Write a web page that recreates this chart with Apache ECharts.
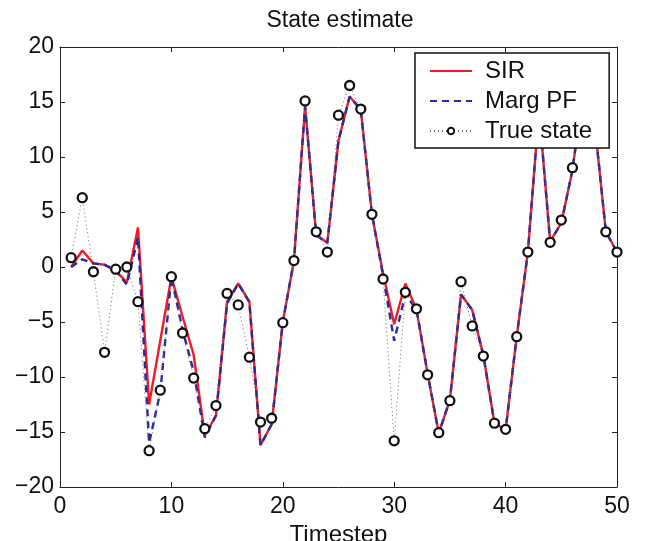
<!DOCTYPE html>
<html>
<head>
<meta charset="utf-8">
<script src="https://cdn.jsdelivr.net/npm/echarts@6/dist/echarts.min.js"></script>
<style>html,body{margin:0;padding:0;background:#fff}#c{width:652px;height:541px}</style>
</head>
<body>
<div id="c"></div>
<script>
// Timesteps 1..50
const timesteps = [1,2,3,4,5,6,7,8,9,10,11,12,13,14,15,16,17,18,19,20,21,22,23,24,25,26,27,28,29,30,31,32,33,34,35,36,37,38,39,40,41,42,43,44,45,46,47,48,49,50];
const sirValues = [0.0,1.5,0.33,0.2,-0.35,-1.4,3.6,-12.5,-6.7,-0.9,-4.5,-8.0,-15.3,-13.5,-3.15,-1.5,-3.15,-16.2,-14.3,-5.0,0.55,14.6,2.9,2.2,11.5,15.5,14.3,4.8,-0.6,-5.2,-1.5,-3.85,-9.7,-15.1,-12.1,-2.5,-3.9,-8.0,-14.2,-14.8,-6.3,1.36,14.3,2.3,4.0,8.8,16.3,13.0,3.2,1.36];
const margPfValues = [0.0,0.7,0.33,0.2,-0.3,-1.6,2.7,-16.0,-11.4,-0.9,-5.7,-9.5,-15.5,-13.5,-3.3,-1.5,-3.2,-16.2,-14.3,-5.0,0.55,14.6,2.9,2.2,11.5,15.5,14.3,4.8,-0.8,-6.7,-2.5,-3.85,-9.7,-15.1,-12.1,-2.5,-3.9,-8.0,-14.2,-14.8,-6.3,1.36,14.3,2.3,4.0,8.8,16.3,13.0,3.2,1.36];
const trueStateValues = [0.85,6.3,-0.43,-7.76,-0.2,0.0,-3.15,-16.7,-11.2,-0.88,-6.0,-10.1,-14.7,-12.6,-2.4,-3.45,-8.2,-14.1,-13.75,-5.06,0.58,15.1,3.2,1.36,13.8,16.5,14.36,4.79,-1.09,-15.8,-2.3,-3.8,-9.8,-15.06,-12.15,-1.33,-5.36,-8.1,-14.2,-14.76,-6.33,1.36,14.5,2.24,4.27,9.03,16.5,13.0,3.2,1.36];
const seriesNames = ['SIR','Marg PF','True state'];
const xTicks = {min:0, max:50, interval:10};
const yTicks = {min:-20, max:20, interval:5};

const pairs = vals => timesteps.map((t,i)=>[t, vals[i]]);
const FONT = 'Liberation Sans';
const AX = '#222';
const minus = v => String(v).replace('-', '\u2212');

const chart = echarts.init(document.getElementById('c'), null, {renderer:'canvas'});
const axisCommon = {
  axisLine:{show:true, onZero:false, lineStyle:{color:AX, width:1}},
  axisTick:{show:true, inside:true, length:5, lineStyle:{color:AX, width:1}},
  splitLine:{show:false}
};
chart.setOption({
  animation:false,
  backgroundColor:'#fff',
  title:{text:'State estimate', left:335, top:4, textAlign:'center',
    textStyle:{fontFamily:FONT, fontSize:23, fontWeight:'normal', color:'#111'}},
  grid:{left:60, right:35, top:47, bottom:54, containLabel:false, outerBoundsMode:'none'},
  legend:{
    data:[
      {name:seriesNames[0], itemStyle:{opacity:0}},
      {name:seriesNames[1], itemStyle:{opacity:0}},
      {name:seriesNames[2]}
    ],
    orient:'vertical', left:415, top:53, z:50, zlevel:1,
    backgroundColor:'#fff', borderColor:'#111', borderWidth:1.5,
    padding:[6,17,5,14], itemGap:6, itemWidth:42, itemHeight:8,
    textStyle:{fontFamily:FONT, fontSize:24, color:'#111', lineHeight:23, padding:[0,0,0,8]}
  },
  xAxis:[
    Object.assign({type:'value', position:'bottom', min:xTicks.min, max:xTicks.max, interval:xTicks.interval,
      name:'Timestep', nameLocation:'middle', nameGap:27,
      nameTextStyle:{fontFamily:FONT, fontSize:24, color:'#111', verticalAlign:'top'},
      axisLabel:{fontFamily:FONT, fontSize:23, color:'#111', margin:8, formatter:minus}}, axisCommon),
    Object.assign({type:'value', position:'top', min:xTicks.min, max:xTicks.max, interval:xTicks.interval,
      axisLabel:{show:false}}, axisCommon)
  ],
  yAxis:[
    Object.assign({type:'value', position:'left', min:yTicks.min, max:yTicks.max, interval:yTicks.interval,
      axisLabel:{fontFamily:FONT, fontSize:23, color:'#111', margin:6, formatter:minus}}, axisCommon),
    Object.assign({type:'value', position:'right', min:yTicks.min, max:yTicks.max, interval:yTicks.interval,
      axisLabel:{show:false}}, axisCommon)
  ],
  series:[
    {name:seriesNames[0], type:'line', data:pairs(sirValues), symbol:'none', z:2,
      lineStyle:{color:'#ee1c25', width:2.4}, itemStyle:{color:'#ee1c25'}},
    {name:seriesNames[1], type:'line', data:pairs(margPfValues), symbol:'none', z:3,
      lineStyle:{color:'#2a2a9c', width:2.4, type:[7,5]}, itemStyle:{color:'#2a2a9c'}},
    {name:seriesNames[2], type:'line', data:pairs(trueStateValues), symbol:'circle', symbolSize:9, z:4,
      lineStyle:{color:'#666', width:1, type:[1,3]},
      itemStyle:{color:'#fff', borderColor:'#111', borderWidth:2.3}}
  ]
});
</script>
</body>
</html>
